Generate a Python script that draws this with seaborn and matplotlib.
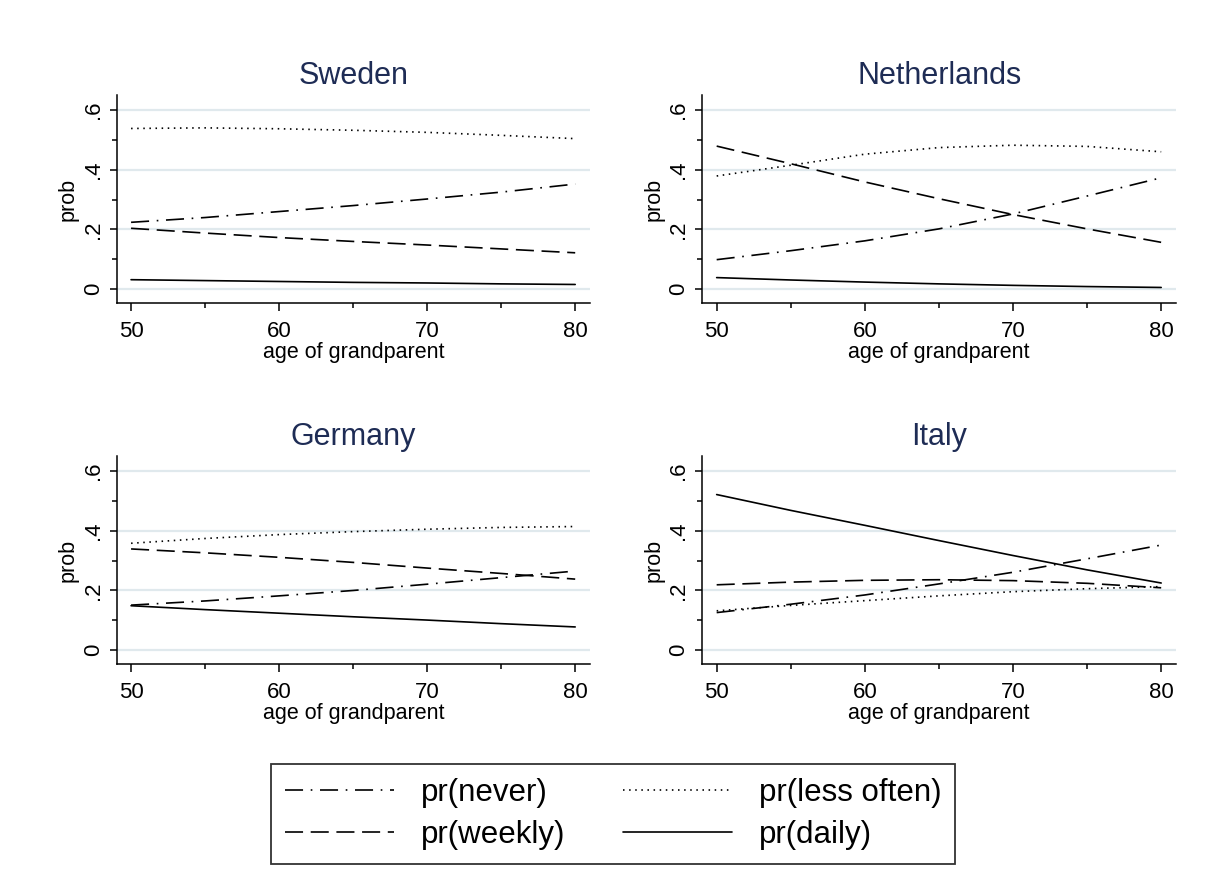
import numpy as np
import pandas as pd
import matplotlib
matplotlib.use("Agg")
import matplotlib.pyplot as plt
from matplotlib.lines import Line2D
from matplotlib.ticker import FixedLocator, FuncFormatter
import seaborn as sns

# ---- data: predicted probabilities of grandparental childcare by age ----
ages = [50, 55, 60, 65, 70, 75, 80]
countries = ["Sweden", "Netherlands", "Germany", "Italy"]
outcomes = ["pr(never)", "pr(weekly)", "pr(less often)", "pr(daily)"]

sweden_never = [0.224, 0.240, 0.260, 0.280, 0.302, 0.325, 0.352]
sweden_weekly = [0.204, 0.188, 0.173, 0.160, 0.148, 0.135, 0.122]
sweden_less = [0.538, 0.540, 0.537, 0.532, 0.525, 0.515, 0.504]
sweden_daily = [0.032, 0.029, 0.026, 0.023, 0.021, 0.018, 0.016]

netherlands_never = [0.099, 0.129, 0.162, 0.202, 0.252, 0.312, 0.373]
netherlands_weekly = [0.479, 0.420, 0.359, 0.303, 0.250, 0.202, 0.157]
netherlands_less = [0.379, 0.415, 0.452, 0.474, 0.482, 0.478, 0.460]
netherlands_daily = [0.039, 0.031, 0.024, 0.018, 0.013, 0.009, 0.006]

germany_never = [0.151, 0.165, 0.182, 0.200, 0.221, 0.243, 0.265]
germany_weekly = [0.339, 0.326, 0.311, 0.294, 0.275, 0.257, 0.238]
germany_less = [0.358, 0.374, 0.387, 0.397, 0.405, 0.411, 0.414]
germany_daily = [0.149, 0.136, 0.124, 0.112, 0.101, 0.089, 0.078]

italy_never = [0.126, 0.154, 0.185, 0.222, 0.261, 0.306, 0.352]
italy_weekly = [0.219, 0.228, 0.234, 0.236, 0.233, 0.224, 0.209]
italy_less = [0.132, 0.150, 0.166, 0.182, 0.196, 0.206, 0.213]
italy_daily = [0.521, 0.468, 0.418, 0.367, 0.317, 0.269, 0.225]

series = {
    "Sweden": [sweden_never, sweden_weekly, sweden_less, sweden_daily],
    "Netherlands": [netherlands_never, netherlands_weekly, netherlands_less, netherlands_daily],
    "Germany": [germany_never, germany_weekly, germany_less, germany_daily],
    "Italy": [italy_never, italy_weekly, italy_less, italy_daily],
}

rows = []
for c in countries:
    for name, vals in zip(outcomes, series[c]):
        for a, v in zip(ages, vals):
            rows.append({"country": c, "age": a, "outcome": name, "prob": v})
df = pd.DataFrame(rows)

y_major = [0, 0.2, 0.4, 0.6]
y_minor = [0.1, 0.3, 0.5]
x_major = [50, 60, 70, 80]
x_minor = [55, 65, 75]

# ---- style ----
sns.set_theme(style="white")
plt.rcParams["font.family"] = ["Liberation Sans", "DejaVu Sans"]
plt.rcParams["lines.scale_dashes"] = False
plt.rcParams["text.color"] = "black"
plt.rcParams["axes.labelcolor"] = "black"

dash_map = {
    "pr(never)": (13, 5.5, 1.2, 5.5),
    "pr(weekly)": (13, 5.5),
    "pr(less often)": (1.1, 3.3),
    "pr(daily)": "",
}
LW = 1.2
title_color = "#1e2c55"
grid_color = "#e0e9ed"

W, H = 1213, 888
fig = plt.figure(figsize=(W / 100, H / 100), dpi=100)
fig.patch.set_facecolor("white")

# panel rectangles in pixels: (left, top, right, bottom)
panel_px = {
    "Sweden": (116.7, 95, 590, 303),
    "Netherlands": (702.3, 95, 1176, 303),
    "Germany": (116.7, 456, 590, 664),
    "Italy": (702.3, 456, 1176, 664),
}


def fmt_prob(v, pos=None):
    if abs(v) < 1e-9:
        return "0"
    return f"{v:.1f}".lstrip("0")


for c in countries:
    l, t, r, b = panel_px[c]
    ax = fig.add_axes([l / W, 1 - b / H, (r - l) / W, (b - t) / H])
    sub = df[df["country"] == c]
    sns.lineplot(data=sub, x="age", y="prob", style="outcome",
                 style_order=outcomes, dashes=dash_map, color="black",
                 lw=LW, legend=False, errorbar=None, ax=ax)
    ax.set_xlim(49.03, 81.0)
    ax.set_ylim(-0.046, 0.65)

    ax.yaxis.set_major_locator(FixedLocator(y_major))
    ax.yaxis.set_minor_locator(FixedLocator(y_minor))
    ax.xaxis.set_major_locator(FixedLocator(x_major))
    ax.xaxis.set_minor_locator(FixedLocator(x_minor))
    ax.yaxis.set_major_formatter(FuncFormatter(fmt_prob))
    for lab in ax.get_yticklabels():
        lab.set_rotation(90)
        lab.set_va("center")

    ax.grid(False)
    ax.yaxis.grid(True, which="major", color=grid_color, lw=1.6, zorder=0)
    ax.set_axisbelow(True)

    for side in ("top", "right"):
        ax.spines[side].set_visible(False)
    for side in ("left", "bottom"):
        ax.spines[side].set_color("black")
        ax.spines[side].set_linewidth(1.1)

    ax.tick_params(which="major", direction="out", length=5.4, width=1.1,
                   color="black", labelsize=16, labelcolor="black",
                   left=True, bottom=True)
    ax.tick_params(axis="x", which="major", pad=7.5)
    ax.tick_params(axis="y", which="major", pad=4)
    ax.tick_params(which="minor", direction="out", length=3.6, width=1.1,
                   color="black", left=True, bottom=True)

    ax.set_xlabel("age of grandparent", fontsize=15.5, labelpad=0, color="black")
    ax.set_ylabel("prob", fontsize=15.5, labelpad=3, color="black")
    ax.set_title(c, fontsize=22, color=title_color, pad=8)

# ---- shared legend ----
handles = [Line2D([], [], color="black", lw=LW,
                  linestyle="-" if dash_map[o] == "" else (0, dash_map[o]))
           for o in outcomes]
leg = fig.legend(handles, outcomes, ncol=2, loc="upper left",
                 bbox_to_anchor=(271 / W, 1 - 764 / H, (955 - 271) / W, 0),
                 mode="expand", fontsize=22.5, frameon=True, fancybox=False,
                 shadow=False, framealpha=1, edgecolor="#333333",
                 borderpad=0.44, labelspacing=0.4, handlelength=3.5,
                 handletextpad=0.85, borderaxespad=0, labelcolor="black")
leg.get_frame().set_linewidth(1.3)

fig.savefig("out.png", dpi=100, facecolor="white")
